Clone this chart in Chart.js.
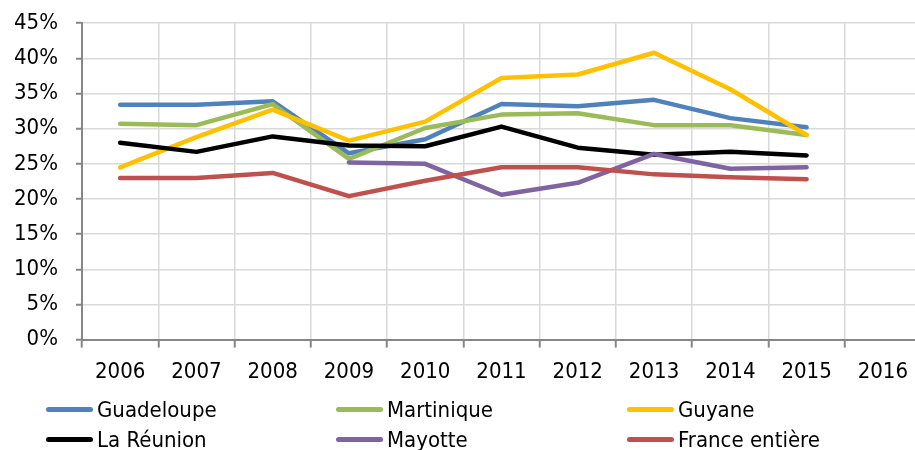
<!DOCTYPE html>
<html lang="fr">
<head>
    <meta charset="UTF-8">
    <title>Part des ménages - DOM et France entière</title>
    <style>
        html, body {
            margin: 0;
            padding: 0;
            width: 915px;
            height: 450px;
            overflow: hidden;
            background: #fff;
            font-family: 'DejaVu Sans Condensed', 'DejaVu Sans', sans-serif;
        }
        .wrap {
            position: relative;
            width: 915px;
            height: 450px;
            overflow: hidden;
        }
        canvas {
            position: absolute;
            left: 0;
            top: -8px;
        }
        .legend-item {
            position: absolute;
            height: 30px;
            display: flex;
            align-items: center;
            font-size: 22px;
            color: #000;
            white-space: nowrap;
        }
        .legend-item .swatch {
            width: 47px;
            height: 5px;
            border-radius: 3px;
            margin-right: 4px;
        }
    </style>
</head>
<body>
    <div class="wrap">
        <canvas id="chart" width="924" height="456"></canvas>
        <div id="legend"></div>
    </div>

    <script src="https://cdn.jsdelivr.net/npm/chart.js"></script>
    <script>
        // Categories and tick labels
        const years = ['2006', '2007', '2008', '2009', '2010', '2011', '2012', '2013', '2014', '2015', '2016'];
        const yTicks = [0, 5, 10, 15, 20, 25, 30, 35, 40, 45];

        // Series values (%)
        const guadeloupe = [33.4, 33.4, 33.9, 26.5, 28.5, 33.5, 33.2, 34.1, 31.5, 30.2, null];
        const martinique = [30.7, 30.5, 33.5, 25.7, 30.1, 32.0, 32.2, 30.5, 30.5, 29.1, null];
        const guyane = [24.5, 28.8, 32.7, 28.3, 31.0, 37.2, 37.7, 40.8, 35.6, 29.1, null];
        const reunion = [28.0, 26.7, 28.9, 27.6, 27.5, 30.3, 27.3, 26.3, 26.7, 26.2, null];
        const mayotte = [null, null, null, 25.2, 25.0, 20.6, 22.3, 26.4, 24.3, 24.5, null];
        const france = [23.0, 23.0, 23.7, 20.4, 22.6, 24.5, 24.5, 23.5, 23.1, 22.8, null];

        const seriesNames = ['Guadeloupe', 'Martinique', 'Guyane', 'La Réunion', 'Mayotte', 'France entière'];
        const seriesData = [guadeloupe, martinique, guyane, reunion, mayotte, france];
        const seriesColors = ['#4F81BD', '#9BBB59', '#FFC000', '#000000', '#8064A2', '#C0504D'];

        Chart.defaults.font.family = "'DejaVu Sans Condensed', 'DejaVu Sans', sans-serif";
        Chart.defaults.font.size = 22;
        Chart.defaults.color = '#000';

        const datasets = seriesNames.map((name, i) => ({
            label: name,
            data: seriesData[i],
            borderColor: seriesColors[i],
            backgroundColor: seriesColors[i],
            borderWidth: 4.5,
            borderCapStyle: 'round',
            borderJoinStyle: 'round',
            pointRadius: 0,
            pointHoverRadius: 0,
            tension: 0,
            fill: false,
            spanGaps: false,
            order: -i // later series drawn on top, as in the original
        }));

        const ctx = document.getElementById('chart').getContext('2d');
        const chart = new Chart(ctx, {
            type: 'line',
            data: { labels: years, datasets: datasets },
            options: {
                responsive: false,
                animation: false,
                layout: {
                    padding: { top: 0, right: 3, bottom: 52, left: 0 }
                },
                plugins: {
                    legend: { display: false },
                    tooltip: { enabled: false }
                },
                scales: {
                    x: {
                        type: 'category',
                        offset: true,
                        grid: {
                            offset: true,
                            color: '#d9d9d9',
                            lineWidth: 1.5,
                            tickColor: '#868686',
                            tickLength: 8,
                            tickWidth: 2
                        },
                        border: { color: '#868686', width: 2 },
                        ticks: {
                            padding: 11,
                            maxRotation: 0,
                            autoSkip: false
                        }
                    },
                    y: {
                        min: 0,
                        max: 45,
                        afterBuildTicks: (scale) => {
                            scale.ticks = yTicks.map(v => ({ value: v }));
                        },
                        afterFit: (scale) => {
                            scale.width = 82;
                        },
                        grid: {
                            color: '#d9d9d9',
                            lineWidth: 1.5,
                            tickColor: '#868686',
                            tickLength: 6,
                            tickWidth: 2
                        },
                        border: { color: '#868686', width: 2 },
                        ticks: {
                            padding: 18,
                            callback: (v) => v + '%'
                        }
                    }
                }
            }
        });

        // Legend in three columns, two rows, as in the original
        const legendCols = [46, 336, 627];
        const legendRows = [394, 424];
        const legendEl = document.getElementById('legend');
        seriesNames.forEach((name, i) => {
            const item = document.createElement('div');
            item.className = 'legend-item';
            item.style.left = legendCols[i % 3] + 'px';
            item.style.top = legendRows[Math.floor(i / 3)] + 'px';
            item.innerHTML = '<span class="swatch" style="background:' + seriesColors[i] + '"></span>' + name;
            legendEl.appendChild(item);
        });
    </script>
</body>
</html>
